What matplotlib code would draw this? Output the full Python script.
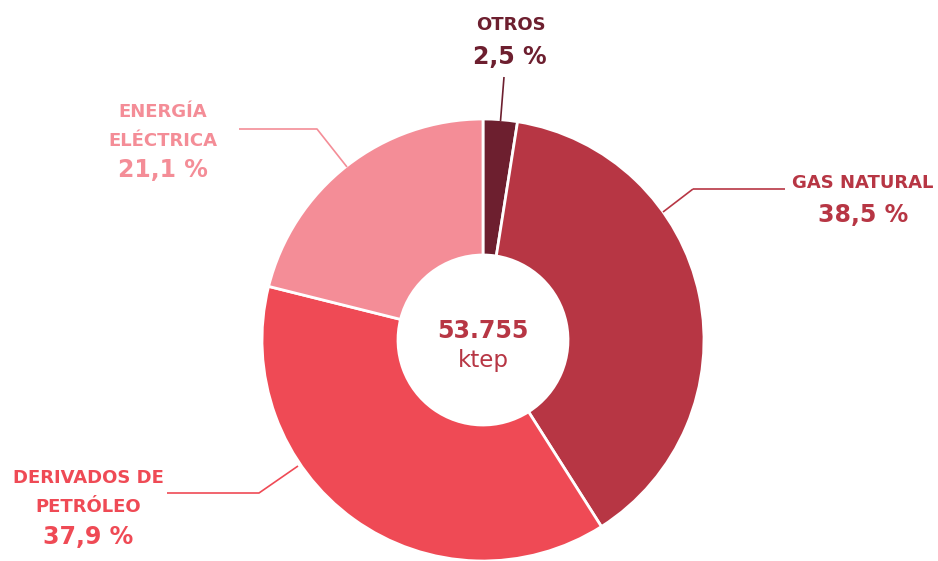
import matplotlib
matplotlib.use("Agg")
import matplotlib.pyplot as plt

# Datos de la gráfica
categorias = ["OTROS", "GAS NATURAL", "DERIVADOS DE\nPETRÓLEO", "ENERGÍA\nELÉCTRICA"]
porcentajes = [2.5, 38.5, 37.9, 21.1]
etiquetas_pct = ["2,5 %", "38,5 %", "37,9 %", "21,1 %"]
colores = ["#6D1F2F", "#B73644", "#EF4A55", "#F48D97"]
total = "53.755"
unidad = "ktep"

W, H = 938, 561
fig = plt.figure(figsize=(W / 100, H / 100), dpi=100)
ax = fig.add_axes([0, 0, 1, 1])

cx, cy, r_ext, r_int = 483, H - 340, 221, 85

ax.pie(porcentajes, colors=colores, startangle=90, counterclock=False,
       center=(cx, cy), radius=r_ext, frame=True,
       wedgeprops=dict(width=r_ext - r_int, edgecolor="white", linewidth=2))
ax.set_xlim(0, W)
ax.set_ylim(0, H)
ax.axis("off")

fuente = "DejaVu Sans"

def y(p):
    return H - p

# Lineas guia (coordenadas en pixeles de la imagen)
guias = [
    ([504, 500.5], [77, 121]),
    ([693, 785], [189, 189]),
    ([663, 693], [212, 189]),
    ([167, 259, 298], [493, 493, 466]),
    ([239, 317, 347], [129, 129, 167]),
]
colores_guia = [colores[0], colores[1], colores[1], colores[2], colores[3]]
for (xs, ys), c in zip(guias, colores_guia):
    ax.plot(xs, [y(v) for v in ys], color=c, lw=1.2, solid_capstyle="butt")

# Textos: posicion de la primera linea del nombre y del porcentaje
pos_nombre = [(511, 25), (863, 183), (88, 478), (163, 112)]
pos_pct = [(510, 57), (863, 215), (88, 537), (163, 170)]
for nom, pct, c, pn, pp in zip(categorias, etiquetas_pct, colores, pos_nombre, pos_pct):
    for i, linea in enumerate(nom.split("\n")):
        ax.text(pn[0], y(pn[1] + 28.5 * i), linea, color=c, ha="center",
                va="center", fontsize=13, fontweight="bold", family=fuente)
    ax.text(pp[0], y(pp[1]), pct, color=c, ha="center", va="center",
            fontsize=17, fontweight="bold", family=fuente)

ax.text(cx, y(331), total, color=colores[1], ha="center", va="center",
        fontsize=17, fontweight="bold", family=fuente)
ax.text(cx, y(360), unidad, color=colores[1], ha="center", va="center",
        fontsize=16.5, family=fuente)

fig.savefig("out.png", dpi=100)
